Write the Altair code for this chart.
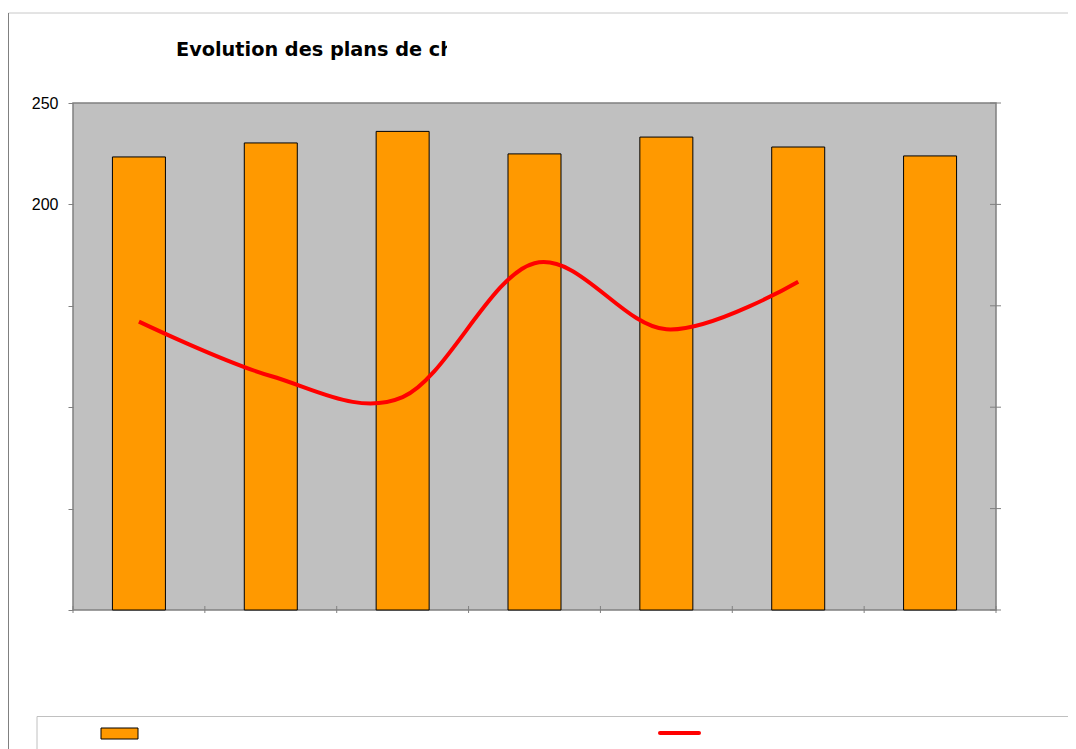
import altair as alt
import pandas as pd

# ---- data ----
bar_values = [223.4, 230.3, 236.0, 224.9, 233.2, 228.3, 223.9]
line_values = [142.2, 115.4, 105.0, 171.0, 138.4, 161.9]
y_ticks = [0, 50, 100, 150, 200, 250]
x_bounds = [0, 1, 2, 3, 4, 5, 6, 7]
title_text = "Evolution des plans de ch"

bars_df = pd.DataFrame({"pos": [i + 0.5 for i in range(len(bar_values))], "v": bar_values})
line_df = pd.DataFrame({"pos": [i + 0.5 for i in range(len(line_values))], "v": line_values})
xb_df = pd.DataFrame({"b": x_bounds})
yt_df = pd.DataFrame({"t": y_ticks})
one = pd.DataFrame({"k": [0]})

W, H = 923, 507
xscale = alt.Scale(domain=[0, 7], nice=False, zero=False, padding=0)
yscale = alt.Scale(domain=[0, 250], nice=False, padding=0)

bars = alt.Chart(bars_df).mark_bar(width=53, color="#FF9900", stroke="black", strokeWidth=1).encode(
    x=alt.X("pos:Q", scale=xscale,
            axis=alt.Axis(values=x_bounds, labels=False, title=None, domain=False,
                          grid=False, ticks=False)),
    y=alt.Y("v:Q", scale=yscale,
            axis=alt.Axis(values=y_ticks, title=None, domain=False, grid=False,
                          labelExpr="datum.value >= 200 ? datum.label : ''",
                          labelFont="Liberation Sans", labelFontSize=16, labelColor="black",
                          labelPadding=10, tickColor="#808080", tickSize=5, orient="left")),
)

line = alt.Chart(line_df).mark_line(interpolate="cardinal", color="#FF0000", strokeWidth=4).encode(
    x=alt.X("pos:Q", scale=xscale),
    y=alt.Y("v:Q", scale=yscale),
)

# tick marks crossing the bottom and right borders
x_ticks = alt.Chart(xb_df).mark_rule(color="#808080", strokeWidth=1).encode(
    x=alt.X("b:Q", scale=xscale), y=alt.value(H - 4), y2=alt.value(H + 3))
r_ticks = alt.Chart(yt_df).mark_rule(color="#808080", strokeWidth=1).encode(
    y=alt.Y("t:Q", scale=yscale), x=alt.value(W - 6), x2=alt.value(W + 5))

frame_top = alt.Chart(one).mark_rule(color="#c8c8c8", strokeWidth=1).encode(
    x=alt.value(-64.5), x2=alt.value(1100), y=alt.value(-90))
frame_left = alt.Chart(one).mark_rule(color="#808080", strokeWidth=1).encode(
    x=alt.value(-64.5), y=alt.value(-90), y2=alt.value(800))

legend_box = alt.Chart(one).mark_rect(fill="white", stroke="#c0c0c0", strokeWidth=1).encode(
    x=alt.value(-36), x2=alt.value(1000), y=alt.value(613.5), y2=alt.value(800))
legend_bar = alt.Chart(one).mark_rect(fill="#FF9900", stroke="black", strokeWidth=1).encode(
    x=alt.value(28), x2=alt.value(65), y=alt.value(625), y2=alt.value(636))
legend_line = alt.Chart(one).mark_rule(color="#FF0000", strokeWidth=4, strokeCap="round").encode(
    x=alt.value(587), x2=alt.value(626), y=alt.value(630))

title = alt.Chart(one).mark_text(text=title_text, align="left", baseline="alphabetic",
                                 font="DejaVu Sans", fontWeight="bold", fontSize=19.3,
                                 color="black").encode(x=alt.value(103), y=alt.value(-47))
title_mask = alt.Chart(one).mark_rect(color="white").encode(
    x=alt.value(374), x2=alt.value(560), y=alt.value(-78), y2=alt.value(-35))

chart = alt.layer(
    frame_top, frame_left, legend_box, legend_bar, legend_line, title, title_mask,
    bars, line, x_ticks, r_ticks
).properties(
    width=W, height=H,
    padding={"left": 65, "top": 95, "right": 72, "bottom": 139},
    autosize=alt.AutoSizeParams(type="none"),
    background="white",
).configure_view(fill="#C0C0C0", stroke="#808080", strokeWidth=1.5)

chart.save("out.html", embed_options={"renderer": "svg", "actions": False})
